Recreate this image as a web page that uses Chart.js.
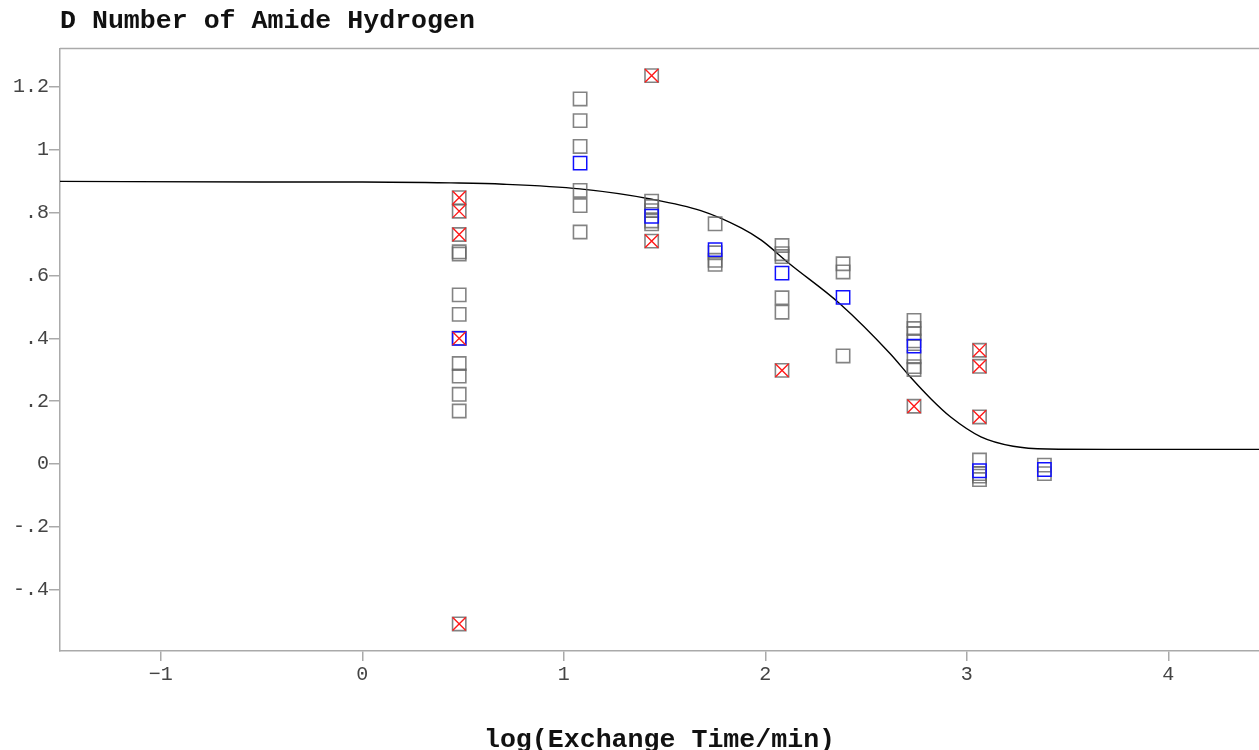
<!DOCTYPE html>
<html>
<head>
<meta charset="utf-8">
<script src="https://cdn.jsdelivr.net/npm/chart.js@4/dist/chart.umd.min.js"></script>
<style>
  html, body { margin: 0; padding: 0; background: #fff; overflow: hidden; }
  canvas { display: block; }
</style>
</head>
<body>
<canvas id="c" width="1259" height="750" style="width:1259px;height:750px"></canvas>
<script>
// ---- data ----
const titleText = 'D Number of Amide Hydrogen';
const xTitle = 'log(Exchange Time/min)';

// log10 exchange time of each measured column
const logTime = [0.481, 1.081, 1.436, 1.751, 2.083, 2.386, 2.738, 3.063, 3.385];

// plain grey squares per column
const greyValues = [
  [0.675, 0.668, 0.538, 0.476, 0.320, 0.280, 0.222, 0.169],
  [1.161, 1.092, 1.010, 0.870, 0.822, 0.738],
  [0.836, 0.819, 0.806, 0.773, 0.764],
  [0.764, 0.672, 0.648, 0.635],
  [0.695, 0.669, 0.660, 0.529, 0.483],
  [0.637, 0.611, 0.344],
  [0.457, 0.431, 0.415, 0.392, 0.341, 0.310, 0.301],
  [0.013, -0.030, -0.038, -0.049],
  [-0.003, -0.030]
];
// points flagged with a red cross
const flaggedValues = [
  [0.847, 0.804, 0.730, 0.400, -0.508],
  [],
  [1.235, 0.709],
  [],
  [0.298],
  [],
  [0.184],
  [0.362, 0.311, 0.150],
  []
];
// blue squares (one per column)
const blueValues = [0.400, 0.957, 0.788, 0.682, 0.607, 0.530, 0.375, -0.021, -0.017];

// fitted curve
const curveX = [-1.5, -0.5, 0.0, 0.44, 0.70, 1.08, 1.43, 1.68, 1.88, 1.98, 2.12, 2.37, 2.62, 2.72, 2.82, 2.92, 3.07, 3.23, 3.40, 3.70, 4.45];
const curveY = [0.899, 0.897, 0.897, 0.894, 0.890, 0.875, 0.843, 0.806, 0.751, 0.712, 0.637, 0.510, 0.351, 0.277, 0.209, 0.150, 0.087, 0.057, 0.048, 0.047, 0.047];

const xTicks = [-1, 0, 1, 2, 3, 4];
const xTickLabels = ['\u22121', '0', '1', '2', '3', '4'];
const yTicks = [-0.4, -0.2, 0, 0.2, 0.4, 0.6, 0.8, 1, 1.2];
const yTickLabels = ['-.4', '-.2', '0', '.2', '.4', '.6', '.8', '1', '1.2'];

// ---- build datasets ----
const greyPts = [];
const flagPts = [];
logTime.forEach((x, i) => {
  greyValues[i].forEach(y => greyPts.push({x, y}));
  flaggedValues[i].forEach(y => { greyPts.push({x, y}); flagPts.push({x, y}); });
});
const bluePts = logTime.map((x, i) => ({x, y: blueValues[i]}));
const curvePts = curveX.map((x, i) => ({x, y: curveY[i]}));

const tickFont = { family: "'Liberation Mono', 'DejaVu Sans Mono', monospace", size: 20 };
const titleFont = { family: "'Liberation Mono', 'DejaVu Sans Mono', monospace", size: 26.6, weight: 'bold', lineHeight: 1 };
const axisGrey = '#aaaaaa';
const MR = 9.4;

const topBorder = {
  id: 'topBorder',
  afterDraw(chart) {
    const {ctx, chartArea} = chart;
    ctx.save();
    ctx.strokeStyle = axisGrey;
    ctx.lineWidth = 1.5;
    ctx.beginPath();
    ctx.moveTo(chartArea.left, chartArea.top);
    ctx.lineTo(chartArea.right, chartArea.top);
    ctx.stroke();
    ctx.restore();
  }
};

new Chart(document.getElementById('c'), {
  type: 'scatter',
  data: {
    datasets: [
      {
        type: 'line', label: 'fit', data: curvePts,
        borderColor: '#000', borderWidth: 1.4, pointRadius: 0,
        cubicInterpolationMode: 'monotone', fill: false, order: 4
      },
      {
        label: 'grey', data: greyPts, pointStyle: 'rect', pointRadius: MR,
        pointBorderColor: 'rgba(100,100,100,0.8)', pointBackgroundColor: 'rgba(0,0,0,0)',
        pointBorderWidth: 1.6, order: 3
      },
      {
        label: 'blue', data: bluePts, pointStyle: 'rect', pointRadius: MR,
        pointBorderColor: '#1010ff', pointBackgroundColor: 'rgba(0,0,0,0)',
        pointBorderWidth: 1.5, order: 2
      },
      {
        label: 'flag', data: flagPts, pointStyle: 'crossRot', pointRadius: MR,
        pointBorderColor: '#ff1a1a', pointBorderWidth: 1.4, order: 1
      }
    ]
  },
  options: {
    responsive: false, animation: false,
    layout: { autoPadding: false, padding: 0 },
    plugins: {
      legend: { display: false },
      tooltip: { enabled: false },
      title: {
        display: true, text: titleText, align: 'start', fullSize: false,
        color: '#111', font: titleFont, padding: { top: 8, bottom: 14 }
      }
    },
    scales: {
      x: {
        type: 'linear', min: -1.5, max: 4.45,
        afterBuildTicks: s => { s.ticks = xTicks.map(v => ({value: v})); },
        afterFit: s => { s.height = 99; s.paddingLeft = 0; s.paddingRight = 0; },
        ticks: {
          color: '#444', font: tickFont, padding: 2, maxRotation: 0,
          callback: (v, i) => xTickLabels[i]
        },
        grid: { drawOnChartArea: false, drawTicks: true, tickLength: 10, color: axisGrey, lineWidth: 1.5 },
        border: { display: true, color: axisGrey, width: 1.5 },
        title: { display: true, text: xTitle, color: '#111', font: titleFont, padding: { top: 0, bottom: -4 } }
      },
      y: {
        type: 'linear', min: -0.594, max: 1.321,
        afterBuildTicks: s => { s.ticks = yTicks.map(v => ({value: v})); },
        afterFit: s => { s.width = 60; s.paddingTop = 0; s.paddingBottom = 0; },
        ticks: {
          color: '#444', font: tickFont, padding: 0,
          callback: (v, i) => yTickLabels[i]
        },
        grid: { drawOnChartArea: false, drawTicks: true, tickLength: 11, color: axisGrey, lineWidth: 1.5 },
        border: { display: true, color: axisGrey, width: 1.5 }
      }
    }
  },
  plugins: [topBorder]
});
</script>
</body>
</html>
